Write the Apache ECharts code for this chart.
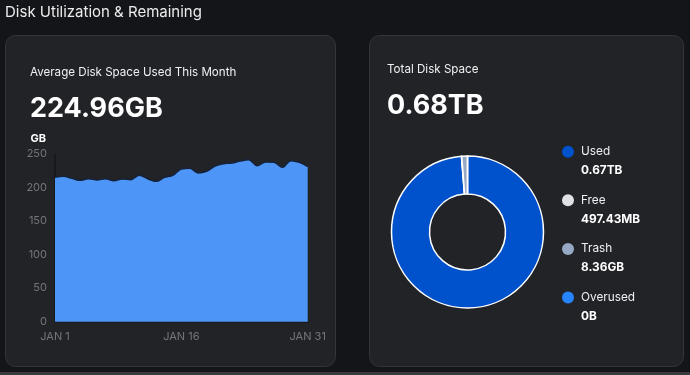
<!DOCTYPE html>
<html>
<head>
<meta charset="utf-8">
<script src="https://cdn.jsdelivr.net/npm/echarts@6/dist/echarts.min.js"></script>
<style>
html,body{margin:0;padding:0;background:#141518;}
#c{width:690px;height:375px;}
</style>
</head>
<body>
<div id="c"></div>
<script>
// ---- data ----
const days = ['JAN 1','JAN 2','JAN 3','JAN 4','JAN 5','JAN 6','JAN 7','JAN 8','JAN 9','JAN 10',
  'JAN 11','JAN 12','JAN 13','JAN 14','JAN 15','JAN 16','JAN 17','JAN 18','JAN 19','JAN 20',
  'JAN 21','JAN 22','JAN 23','JAN 24','JAN 25','JAN 26','JAN 27','JAN 28','JAN 29','JAN 30','JAN 31'];
const usedGB = [215.2,216.7,213.7,210.7,213.2,211.2,213.2,210.2,212.7,211.7,
  218.2,213.2,209.2,215.2,218.2,227.6,228.6,221.7,224.2,232.1,
  235.6,236.6,239.6,241.5,232.6,238.1,237.6,230.1,240.1,237.6,231.1];
const sliceNames = ['Used','Free','Trash','Overused'];
const sliceValuesGB = [686.0, 0.486, 8.36, 0];
const sliceLabels = ['0.67TB','497.43MB','8.36GB','0B'];
const sliceColors = ['#0052cc','#dfe1e6','#97a8c4','#2684ff'];
const headerText = 'Disk Utilization & Remaining';
const leftTitle = 'Average Disk Space Used This Month';
const leftValue = '224.96GB';
const rightTitle = 'Total Disk Space';
const rightValue = '0.68TB';

const FONT = 'Inter, "Noto Sans", sans-serif';
const chart = echarts.init(document.getElementById('c'));

const pieData = sliceNames.map((n, i) => ({name: n, value: sliceValuesGB[i], itemStyle: {color: sliceColors[i]}}));
const labelMap = {};
sliceNames.forEach((n, i) => labelMap[n] = sliceLabels[i]);

chart.setOption({
  backgroundColor: '#141518',
  animation: false,
  graphic: [
    {type: 'rect', z: -10, shape: {x: 5.5, y: 35.5, width: 330, height: 331, r: 10},
      style: {fill: '#222327', stroke: '#34353b', lineWidth: 1}},
    {type: 'rect', z: -10, shape: {x: 369.5, y: 35.5, width: 314, height: 331, r: 10},
      style: {fill: '#222327', stroke: '#34353b', lineWidth: 1}},
    {type: 'rect', z: -10, shape: {x: 0, y: 372, width: 690, height: 3},
      style: {fill: '#3a3b40'}},
    {type: 'text', x: 5, y: 12, style: {text: headerText, fill: '#ececee', font: '15px ' + FONT, verticalAlign: 'middle'}},
    {type: 'text', x: 30, y: 73, style: {text: leftTitle, fill: '#f0f0f2', font: '11.6px ' + FONT, verticalAlign: 'middle'}},
    {type: 'text', x: 30, y: 108.5, style: {text: leftValue, fill: '#ffffff', font: 'bold 27px ' + FONT, verticalAlign: 'middle'}},
    {type: 'text', x: 387, y: 69.5, style: {text: rightTitle, fill: '#f0f0f2', font: '11.6px ' + FONT, verticalAlign: 'middle'}},
    {type: 'text', x: 387, y: 105.5, style: {text: rightValue, fill: '#ffffff', font: 'bold 27px ' + FONT, verticalAlign: 'middle'}}
  ],
  grid: {left: 55, top: 154, width: 252.7, height: 167.7},
  xAxis: {
    type: 'category', data: days, boundaryGap: false,
    axisLine: {lineStyle: {color: '#16171b', width: 1.5}},
    axisTick: {show: false},
    axisLabel: {interval: 14, color: '#75767c', fontSize: 11, fontFamily: FONT, margin: 9}
  },
  yAxis: {
    type: 'value', min: 0, max: 250, interval: 50,
    name: 'GB', nameLocation: 'end', nameGap: 10,
    nameTextStyle: {color: '#ffffff', fontSize: 11, fontWeight: 'bold', fontFamily: FONT, align: 'right', padding: [0, 9, 0, 0]},
    axisLine: {show: true, lineStyle: {color: '#16171b', width: 1.5}},
    axisTick: {show: false},
    splitLine: {show: false},
    axisLabel: {color: '#75767c', fontSize: 11, fontFamily: FONT, margin: 8}
  },
  legend: {
    orient: 'vertical', left: 562, top: 145.7, padding: 0,
    icon: 'circle', itemWidth: 12, itemHeight: 12, itemGap: 17.6,
    itemStyle: {borderWidth: 0},
    data: sliceNames,
    selectedMode: false,
    formatter: n => '{n|' + n + '}\n{v|' + labelMap[n] + '}',
    textStyle: {
      padding: [0, 0, -19, 2],
      rich: {
        n: {color: '#f0f0f2', fontSize: 11.8, fontFamily: FONT, lineHeight: 19},
        v: {color: '#ffffff', fontSize: 11.8, fontWeight: 'bold', fontFamily: FONT, lineHeight: 19}
      }
    }
  },
  series: [
    {
      type: 'line', data: usedGB, smooth: 0.35, symbol: 'none',
      lineStyle: {color: '#16223a', width: 1.5},
      areaStyle: {color: '#4d96f7', opacity: 1}
    },
    {
      type: 'pie', center: [467.5, 232], radius: [38, 76], startAngle: 90, clockwise: true,
      label: {show: false}, labelLine: {show: false},
      itemStyle: {borderColor: '#ffffff', borderWidth: 1.5},
      emphasis: {disabled: true},
      data: pieData
    }
  ]
});
</script>
</body>
</html>
